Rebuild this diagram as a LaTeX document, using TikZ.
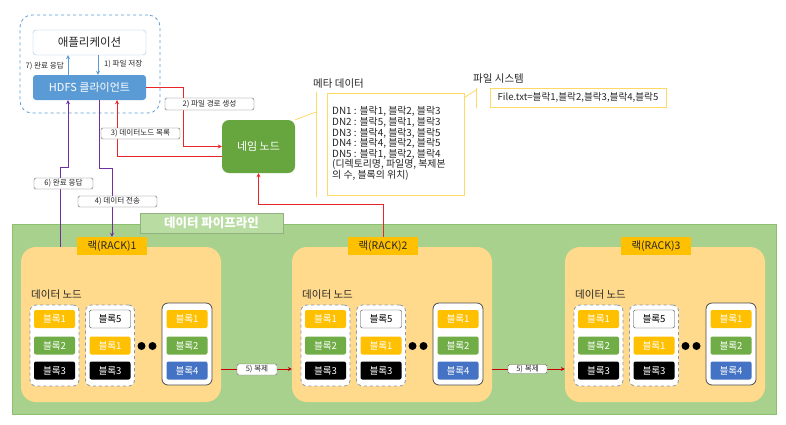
\documentclass[tikz,border=0pt]{standalone}
\usepackage{fontspec}
\setmainfont{Noto Sans CJK KR}
\usetikzlibrary{arrows.meta}
\definecolor{cblue}{HTML}{5B9BD5}
\definecolor{cgold}{HTML}{FFC000}
\definecolor{cgreen}{HTML}{70AD47}
\definecolor{cnavy}{HTML}{4472C4}
\definecolor{rackfill}{HTML}{FFD98C}
\definecolor{pipefill}{HTML}{A9D18E}
\definecolor{pipedraw}{HTML}{8CBF6E}
\definecolor{plabel}{HTML}{B8DCA2}
\definecolor{cpurple}{HTML}{7030A0}
\definecolor{cred}{HTML}{E8262A}
\definecolor{cyellow}{HTML}{FFD966}
\definecolor{dashb}{HTML}{8497B0}
\definecolor{nngreen}{HTML}{67A63F}
\tikzset{
  blk/.style={rounded corners=2pt, minimum width=41pt, minimum height=18pt, inner sep=0pt,
    font=\fontsize{9.6}{10}\selectfont, text=white},
  bgold/.style={blk, fill=cgold},
  bgreen/.style={blk, fill=cgreen},
  bblack/.style={blk, fill=black},
  bblue/.style={blk, fill=cnavy},
  bwhite/.style={blk, fill=white, draw=black!75, text=black},
  dnode/.style={draw=dashb, dashed, thick, fill=white, rounded corners=6pt, minimum width=49pt, minimum height=81pt, inner sep=0pt},
  snode/.style={draw=black!70, thick, fill=white, rounded corners=6pt, minimum width=50pt, minimum height=82pt, inner sep=0pt},
  rackbox/.style={fill=rackfill, rounded corners=15pt, minimum width=200pt, minimum height=155pt, inner sep=0pt},
  racklbl/.style={fill=cgold, minimum width=70pt, minimum height=18pt, inner sep=0pt, font=\fontsize{10.5}{11}\selectfont, text=black!85},
  lbl/.style={draw=black!60, fill=white, rounded corners=1.5pt, inner sep=0pt, font=\fontsize{7.6}{8}\selectfont, text=black!85},
  redarr/.style={draw=cred, thick, -{Stealth[length=4pt,width=4pt]}},
  purarr/.style={draw=cpurple, thick, -{Stealth[length=4pt,width=4pt]}},
  bluearr/.style={draw=cblue, thick, -{Stealth[length=4pt,width=4pt]}},
  txt/.style={inner sep=0pt, text=black!85},
}
\begin{document}
\begin{tikzpicture}[x=1pt,y=-1pt]
\useasboundingbox (0,0) rectangle (786,424);
% client group
\node[draw=cblue, dashed, thick, rounded corners=12pt, minimum width=140pt, minimum height=98pt, inner sep=0pt] (grp) at (90,64) {};
\node[draw=cblue!60, fill=white, rounded corners=3pt, minimum width=113pt, minimum height=25pt, inner sep=0pt, font=\fontsize{11.5}{12}\selectfont, text=black!85] (app) at (89.5,42.5) {애플리케이션};
\node[fill=cblue, rounded corners=3pt, minimum width=113pt, minimum height=25pt, inner sep=0pt, font=\fontsize{11}{12}\selectfont, text=white] (client) at (89.5,87.5) {HDFS 클라이언트};
\draw[bluearr] ([xshift=-21.5pt]client.north) -- ([xshift=-21.5pt]app.south);
\draw[bluearr] ([xshift=8.5pt]app.south) -- ([xshift=8.5pt]client.north);
\node[txt, anchor=east, font=\fontsize{7.6}{8}\selectfont] (l7) at (64,66) {7) 완료 응답};
\node[txt, anchor=west, font=\fontsize{7.6}{8}\selectfont] (l1) at (104,64) {1) 파일 저장};
% name node
\node[fill=nngreen, rounded corners=7pt, minimum width=73pt, minimum height=53pt, inner sep=0pt, font=\fontsize{11}{12}\selectfont, text=white] (nn) at (258.5,146.5) {네임 노드};
% pipeline
\node[fill=pipefill, draw=pipedraw, minimum width=764pt, minimum height=190pt, inner sep=0pt] (pipe) at (394,319) {};
\node[fill=plabel, draw=plabel!80!black, minimum width=143pt, minimum height=20pt, inner sep=0pt, font=\bfseries\fontsize{12.5}{13}\selectfont, text=white] (plbl) at (211.5,223) {데이터 파이프라인};
% racks
\foreach \i/\dx in {1/0,2/271,3/544}{
  \begin{scope}[xshift=\dx pt]
  \node[rackbox] (rack\i) at (121,324.5) {};
  \node[racklbl] (rl\i) at (112,246) {랙(RACK)\i};
  \node[txt, anchor=west, font=\fontsize{10.5}{11}\selectfont] (dt\i) at (31,295) {데이터 노드};
  \node[dnode] (na\i) at (54.5,345.5) {};
  \node[dnode] (nb\i) at (110,345.5) {};
  \node[snode] (nc\i) at (187,344) {};
  \node[bgold] (a1\i) at (54.5,319) {블록1};
  \node[bgreen] (a2\i) at (54.5,345.5) {블록2};
  \node[bblack] (a3\i) at (54.5,370.5) {블록3};
  \node[bwhite] (b1\i) at (110,319) {블록5};
  \node[bgold] (b2\i) at (110,345.5) {블록1};
  \node[bblack] (b3\i) at (110,370.5) {블록3};
  \node[bgold] (c1\i) at (187,319) {블록1};
  \node[bgreen] (c2\i) at (187,345.5) {블록2};
  \node[bblue] (c3\i) at (187,370.5) {블록4};
  \fill (141.5,346) circle (4pt) (152.5,346) circle (4pt);
  \end{scope}
}
% replication arrows
\draw[redarr, draw=red!80!black] ([yshift=-44.5pt]rack1.east) -- ([yshift=-44.5pt]rack2.west);
\node[lbl, minimum width=40pt, minimum height=11pt] (l5a) at (257,369.5) {5) 복제};
\draw[redarr, draw=red!80!black] ([yshift=-44.5pt]rack2.east) -- ([yshift=-44.5pt]rack3.west);
\node[lbl, minimum width=39pt, minimum height=9pt] (l5b) at (527.5,369) {5) 복제};
% client <-> name node
\draw[redarr] (client.east) -- ++(37,0) |- (nn.west);
\node[lbl, minimum width=89pt, minimum height=12pt] (l2) at (209.5,104) {2) 파일 경로 생성};
\draw[redarr] ([yshift=-10pt]nn.west) -| ([xshift=27.5pt]client.south);
\node[lbl, minimum width=79pt, minimum height=11pt] (l3) at (140.5,133.5) {3) 데이터노드 목록};
% data transfer
\draw[purarr] ([xshift=9.5pt]client.south) -- ++(0,68) -| (rl1.north);
\node[lbl, minimum width=79pt, minimum height=11pt] (l4) at (117.5,201.5) {4) 데이터 전송};
\draw[purarr] ([xshift=-61pt]rack1.north) -- ++(0,-79) -| ([xshift=-21.5pt]client.south);
\node[lbl, minimum width=59pt, minimum height=11pt] (l6) at (63.5,183.5) {6) 완료 응답};
% rack2 -> name node
\draw[redarr] (rl2.north) -- ++(0,-32) -| (nn.south);
% metadata
\node[txt, anchor=west, font=\fontsize{10.5}{11}\selectfont] (mtitle) at (313,84) {메타 데이터};
\coordinate (mb1) at (316,92);
\coordinate (mb2) at (316,197);
\coordinate (mbm) at (316,112);
\draw[cyellow, thick] (mb1) -- (mb2);
\draw[cyellow, thick] (nn.north east) -- (mbm);
\node[draw=cyellow, thick, fill=white, minimum width=137pt, minimum height=102pt, inner sep=0pt] (meta) at (395.5,144) {};
\node[txt, anchor=north west, align=left, font=\fontsize{9.9}{10.6}\selectfont] (metatxt) at (332,106.5) {DN1 : 블락1, 블락2, 블락3\\DN2 : 블락5, 블락1, 블락3\\DN3 : 블락4, 블락3, 블락5\\DN4 : 블락4, 블락2, 블락5\\DN5 : 블락1, 블락2, 블락4\\(디렉토리명, 파일명, 복제본\\의 수, 블록의 위치)};
\node[txt, anchor=west, font=\fontsize{10.5}{11}\selectfont] (ftitle) at (473,79) {파일 시스템};
\coordinate (fb1) at (476,88);
\coordinate (fb2) at (476,108);
\coordinate (fbm) at (476,90);
\draw[cyellow, thick] (fb1) -- (fb2);
\draw[cyellow, thick] ([yshift=-5pt]meta.north east) -- (fbm);
\node[draw=cyellow, thick, fill=white, minimum width=176pt, minimum height=19pt, inner sep=0pt, font=\fontsize{9.6}{10}\selectfont, text=black!85] (fs) at (578,97.5) {File.txt=블락1,블락2,블락3,블락4,블락5};
\end{tikzpicture}
\end{document}
